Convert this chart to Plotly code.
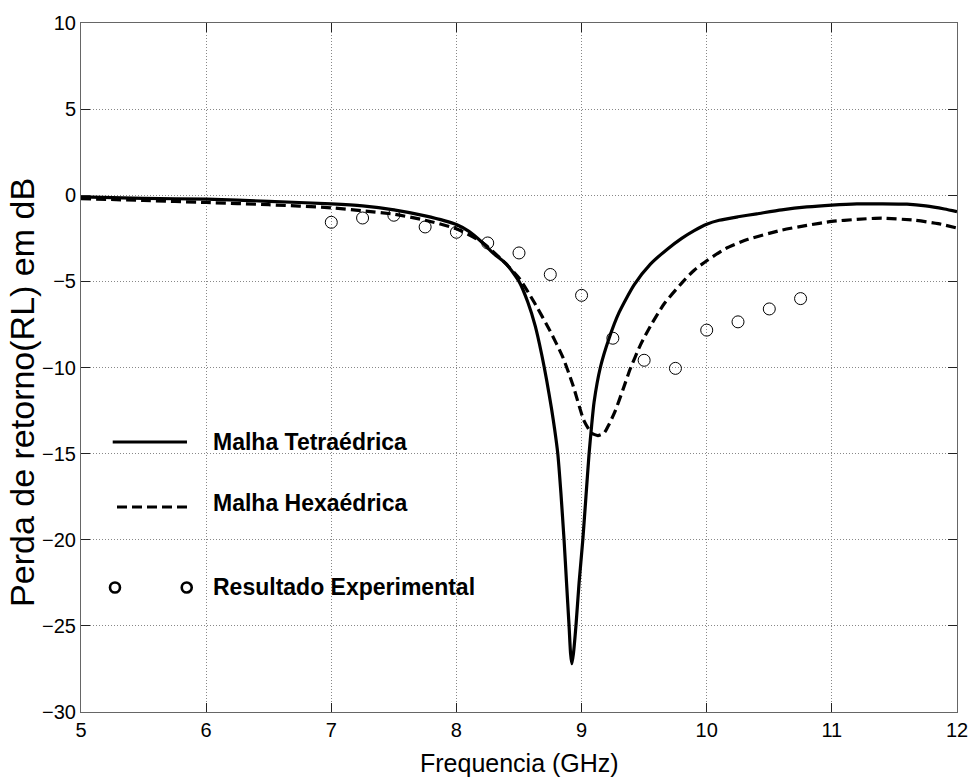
import plotly.graph_objects as go

# --- data ---
freq_tetra = [5.0, 5.5, 6.0, 6.5, 7.0, 7.25, 7.5, 7.75, 8.0, 8.1, 8.2, 8.3, 8.4, 8.5, 8.57,
              8.63, 8.68, 8.72, 8.76, 8.785, 8.81, 8.835, 8.86, 8.88, 8.90, 8.912, 8.922,
              8.935, 8.955, 8.98, 9.01, 9.035, 9.06, 9.08, 9.10, 9.15, 9.22,
              9.3, 9.42, 9.55, 9.69, 9.8, 9.9, 10.0, 10.1, 10.25, 10.4, 10.6, 10.8, 11.0,
              11.2, 11.4, 11.6, 11.75, 11.9, 12.0]
rl_tetra = [-0.1, -0.18, -0.23, -0.35, -0.5, -0.62, -0.85, -1.2, -1.7, -2.1, -2.7, -3.4, -4.0,
            -5.0, -6.2, -7.6, -9.2, -10.7, -12.4, -13.6, -15.0, -17.3, -20.0, -22.5, -25.0,
            -26.6, -27.2, -26.6, -25.0, -22.5, -20.0, -17.5, -15.0, -13.4, -12.0, -10.0, -8.3,
            -6.8, -5.2, -4.0, -3.1, -2.5, -2.05, -1.68, -1.45, -1.25, -1.08, -0.85,
            -0.68, -0.57, -0.5, -0.5, -0.52, -0.62, -0.8, -0.95]

freq_hexa = [5.0, 5.5, 6.0, 6.5, 7.0, 7.25, 7.5, 7.75, 8.0, 8.2, 8.35, 8.5, 8.62, 8.75, 8.85,
             8.93, 9.02, 9.08, 9.13, 9.18, 9.22, 9.27, 9.33, 9.39, 9.47, 9.55, 9.66, 9.8, 9.9,
             10.0, 10.15, 10.33, 10.59, 10.8, 11.0, 11.2, 11.4, 11.66, 11.85, 12.0]
rl_hexa = [-0.2, -0.3, -0.42, -0.55, -0.73, -0.9, -1.1, -1.45, -1.95, -2.7, -3.66, -4.8, -6.2,
           -7.9, -9.4, -11.0, -13.1, -13.8, -13.95, -13.8, -13.3, -12.5, -11.3, -10.06, -8.7,
           -7.6, -6.3, -5.1, -4.35, -3.8, -3.1, -2.56, -2.04, -1.75, -1.52, -1.4, -1.33,
           -1.45, -1.65, -1.9]

freq_exp = [7.0, 7.25, 7.5, 7.75, 8.0, 8.25, 8.5, 8.75, 9.0, 9.25, 9.5, 9.75, 10.0, 10.25,
            10.5, 10.75]
rl_exp = [-1.57, -1.32, -1.16, -1.84, -2.15, -2.77, -3.35, -4.6, -5.81, -8.3, -9.58, -10.05,
          -7.83, -7.35, -6.6, -6.0]

x_ticks = [5, 6, 7, 8, 9, 10, 11, 12]
y_ticks = [10, 5, 0, -5, -10, -15, -20, -25, -30]

legend_labels = ["Malha Tetraédrica", "Malha Hexaédrica", "Resultado Experimental"]

FONT = "Liberation Sans, Arial, sans-serif"

fig = go.Figure()
fig.add_trace(go.Scatter(x=freq_tetra, y=rl_tetra, mode="lines",
                         line=dict(color="black", width=3.2, shape="spline", smoothing=0.6),
                         name=legend_labels[0], showlegend=False))
fig.add_trace(go.Scatter(x=freq_hexa, y=rl_hexa, mode="lines",
                         line=dict(color="black", width=3.2, dash="10px,5px",
                                   shape="spline", smoothing=0.6),
                         name=legend_labels[1], showlegend=False))
fig.add_trace(go.Scatter(x=freq_exp, y=rl_exp, mode="markers",
                         marker=dict(symbol="circle-open", size=12, color="black",
                                     line=dict(width=1, color="black")),
                         name=legend_labels[2], showlegend=False))

axis_common = dict(showline=True, linecolor="#666", linewidth=1, mirror="ticks",
                   ticks="inside", ticklen=9, tickcolor="#222", tickwidth=1,
                   showgrid=True, gridcolor="#888", griddash="1px,2px", gridwidth=1,
                   zeroline=False, automargin=False,
                   tickfont=dict(family=FONT, size=20, color="black"))

fig.update_xaxes(range=[5, 12], tickvals=x_ticks, **axis_common)
fig.update_yaxes(range=[-30, 10], tickvals=y_ticks, **axis_common)

# manual legend (MATLAB style)
shapes = [
    dict(type="line", xref="paper", yref="paper", x0=0.0362, x1=0.121, y0=0.3919, y1=0.3919,
         line=dict(color="black", width=3.2)),
    dict(type="line", xref="paper", yref="paper", x0=0.0411, x1=0.121, y0=0.2975, y1=0.2975,
         line=dict(color="black", width=3.2, dash="10px,5px")),
]
for xm in (0.0388, 0.1207):
    shapes.append(dict(type="circle", xref="paper", yref="paper", xsizemode="pixel",
                       ysizemode="pixel", xanchor=xm, yanchor=0.1807, x0=-5, x1=5, y0=-5, y1=5,
                       line=dict(color="black", width=2.6)))
fig.update_layout(shapes=shapes)

annotations = []
for lab, yp in zip(legend_labels, [0.3923, 0.3033, 0.1819]):
    annotations.append(dict(text="<b>" + lab + "</b>", xref="paper", yref="paper", x=0.1484,
                            y=yp, xanchor="left", yanchor="middle", showarrow=False,
                            font=dict(family=FONT, size=23, color="black")))
annotations.append(dict(text="Frequencia (GHz)", xref="paper", yref="paper", x=0.5, y=-0.074,
                        xanchor="center", yanchor="middle", showarrow=False,
                        font=dict(family=FONT, size=25, color="black")))
annotations.append(dict(text="Perda de retorno(RL) em dB", xref="paper", yref="paper",
                        x=-0.0675, y=0.4644, xanchor="center", yanchor="middle",
                        textangle=-90, showarrow=False,
                        font=dict(family=FONT, size=34, color="black")))
fig.update_layout(annotations=annotations)

fig.update_layout(width=971, height=779, margin=dict(l=81, r=14, t=23, b=67, autoexpand=False),
                  paper_bgcolor="white", plot_bgcolor="white", showlegend=False)

fig.write_html("out.html")
